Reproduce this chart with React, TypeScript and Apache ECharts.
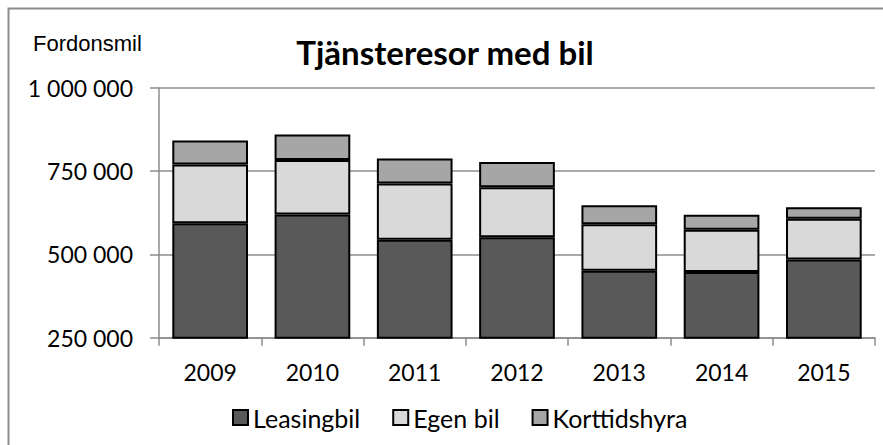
import React, { useEffect, useRef } from "react";
import * as echarts from "echarts";

const categories = ["2009", "2010", "2011", "2012", "2013", "2014", "2015"];
const leasingbil = [594000, 620000, 544000, 552000, 451000, 447000, 485000];
const egenBil = [176000, 164000, 169000, 150000, 140000, 127000, 122000];
const korttidshyra = [72000, 76000, 75000, 76000, 57000, 45000, 35000];
const seriesNames = ["Leasingbil", "Egen bil", "Korttidshyra"];
const seriesColors = ["#595959", "#d9d9d9", "#a6a6a6"];
const titleText = "Tjänsteresor med bil";
const unitText = "Fordonsmil";

const FONT = "Lato, 'Open Sans', sans-serif";

function fmt(v: number): string {
  return String(v).replace(/\B(?=(\d{3})+(?!\d))/g, " ");
}

export default function App() {
  const ref = useRef<HTMLDivElement>(null);
  useEffect(() => {
    document.body.style.margin = "0";
    if (!ref.current) return;
    const chart = echarts.init(ref.current, undefined, { renderer: "svg" });
    const data = [leasingbil, egenBil, korttidshyra];
    chart.setOption({
      animation: false,
      backgroundColor: "#ffffff",
      graphic: [
        {
          type: "rect",
          shape: { x: 8.5, y: 8.5, width: 900, height: 500 },
          style: { fill: "none", stroke: "#8c8c8c", lineWidth: 2 },
          silent: true,
        },
        {
          type: "text",
          x: 445,
          y: 52,
          style: {
            text: titleText,
            font: `bold 33px ${FONT}`,
            fill: "#000",
            align: "center",
            verticalAlign: "middle",
          },
        },
        {
          type: "text",
          x: 33,
          y: 43,
          style: {
            text: unitText,
            font: `22px 'Liberation Sans', Arial, sans-serif`,
            fill: "#000",
            align: "left",
            verticalAlign: "middle",
          },
        },
      ],
      grid: { left: 159, right: 8, top: 88, bottom: 107.3, containLabel: false },
      legend: {
        data: seriesNames,
        top: 400,
        left: 227,
        icon: "rect",
        itemWidth: 15,
        itemHeight: 15,
        itemGap: 32,
        textStyle: { fontFamily: FONT, fontSize: 25, color: "#000" },
      },
      xAxis: {
        type: "category",
        data: categories,
        boundaryGap: true,
        axisLine: { show: true, lineStyle: { color: "#8c8c8c", width: 1.5 } },
        axisTick: { show: true, alignWithLabel: false, length: 8, lineStyle: { color: "#8c8c8c", width: 1.5 } },
        axisLabel: { margin: 23, fontFamily: FONT, fontSize: 23, color: "#000" },
      },
      yAxis: {
        type: "value",
        min: 250000,
        max: 1000000,
        interval: 250000,
        axisLine: { show: true, lineStyle: { color: "#8c8c8c", width: 1.5 } },
        axisTick: { show: true, length: 9, lineStyle: { color: "#8c8c8c", width: 1.5 } },
        splitLine: { show: true, lineStyle: { color: "#8c8c8c", width: 1.5 } },
        axisLabel: {
          margin: 26,
          fontFamily: FONT,
          fontSize: 23,
          color: "#000",
          formatter: (v: number) => fmt(v),
        },
      },
      series: seriesNames.map((name, i) => ({
        name,
        type: "bar",
        stack: "total",
        data: data[i],
        barCategoryGap: "26%",
        clip: true,
        itemStyle: { color: seriesColors[i], borderColor: "#000", borderWidth: 2 },
      })),
    });
    return () => chart.dispose();
  }, []);
  return <div ref={ref} style={{ width: 883, height: 445 }} />;
}
